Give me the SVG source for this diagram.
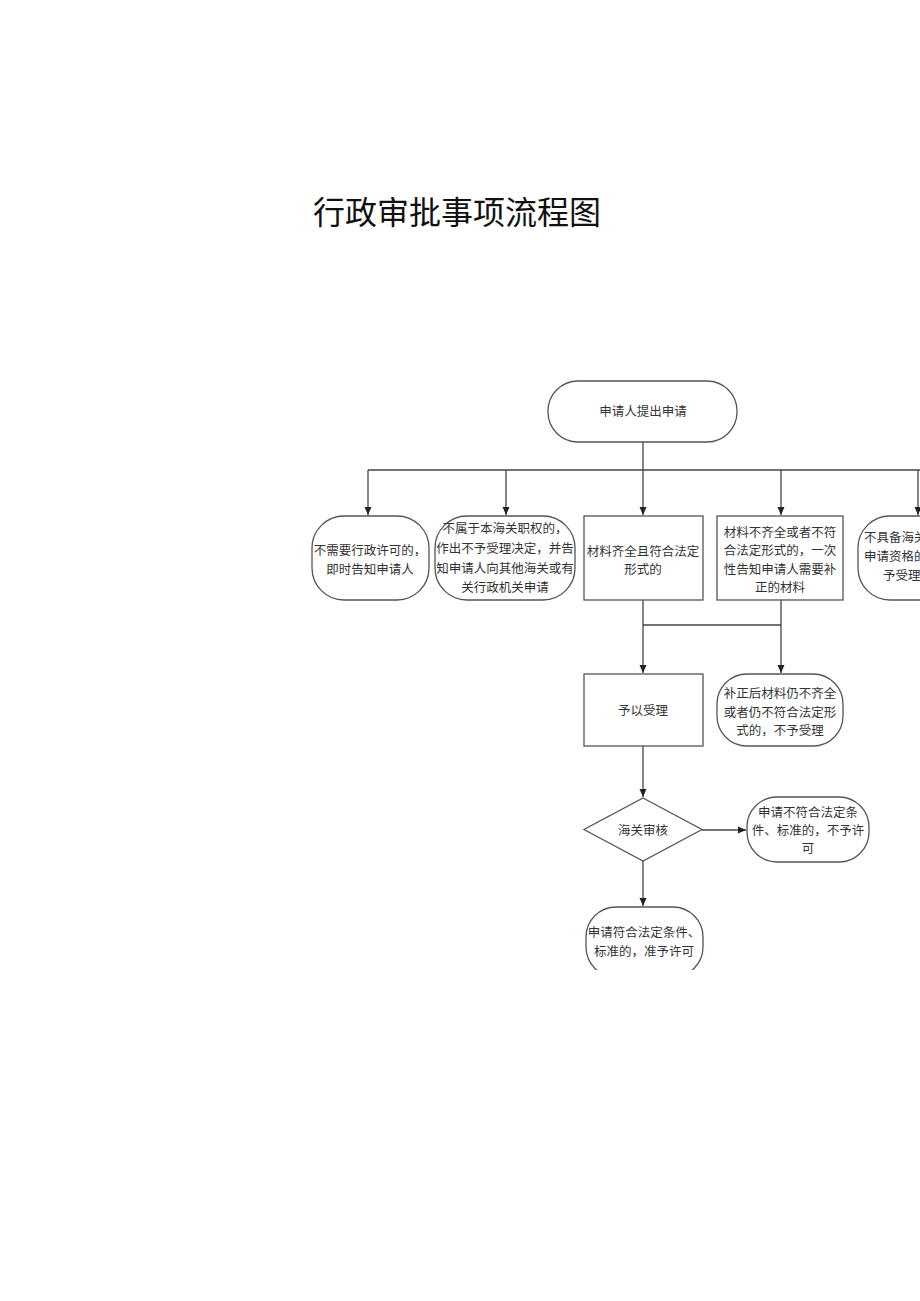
<svg xmlns="http://www.w3.org/2000/svg" width="920" height="1301" viewBox="0 0 920 1301">
<style>
.shape{fill:#fff;stroke:#555;stroke-width:1.3}
.t{font-family:"Noto Sans CJK SC","Noto Sans",sans-serif;font-size:12.5px;fill:#333;text-anchor:middle}
.title{font-family:"Noto Sans CJK SC","Noto Sans",sans-serif;font-size:32px;fill:#111}
.c{fill:none;stroke:#444;stroke-width:1.3}
</style>
<defs>
<marker id="arr" markerWidth="8" markerHeight="8" refX="8" refY="4" orient="auto" markerUnits="userSpaceOnUse">
<path d="M0,0.5 L8,4 L0,7.5 Z" fill="#222"/>
</marker>
<clipPath id="cut"><rect x="0" y="0" width="920" height="970"/></clipPath>
</defs>
<rect width="920" height="1301" fill="#fff"/>
<text class="title" x="313" y="224">行政审批事项流程图</text>

<g id="connectors">
<path class="c" d="M643 442 V470"/>
<path class="c" d="M368 470 H925"/>
<path class="c" d="M368 470 V515" marker-end="url(#arr)"/>
<path class="c" d="M506 470 V515" marker-end="url(#arr)"/>
<path class="c" d="M643 470 V515" marker-end="url(#arr)"/>
<path class="c" d="M781 470 V515" marker-end="url(#arr)"/>
<path class="c" d="M918 470 V515" marker-end="url(#arr)"/>
<path class="c" d="M643 600 V673" marker-end="url(#arr)"/>
<path class="c" d="M781 600 V673" marker-end="url(#arr)"/>
<path class="c" d="M643 625 H781"/>
<path class="c" d="M643 746 V797" marker-end="url(#arr)"/>
<path class="c" d="M702 830 H746" marker-end="url(#arr)"/>
<path class="c" d="M643 861 V906" marker-end="url(#arr)"/>
</g>

<g id="start">
<rect class="shape" x="548" y="381" width="189" height="61" rx="30" ry="30"/>
<text class="t" x="643" y="416">申请人提出申请</text>
</g>

<g id="n1">
<rect class="shape" x="312" y="516" width="117" height="84" rx="32" ry="32"/>
<text class="t" x="370" y="555">不需要行政许可的，</text>
<text class="t" x="370" y="574">即时告知申请人</text>
</g>

<g id="n2">
<rect class="shape" x="435" y="516" width="140" height="84" rx="32" ry="32"/>
<text class="t" x="505" y="533">不属于本海关职权的，</text>
<text class="t" x="505" y="553">作出不予受理决定，并告</text>
<text class="t" x="505" y="573">知申请人向其他海关或有</text>
<text class="t" x="505" y="592">关行政机关申请</text>
</g>

<g id="n3">
<rect class="shape" x="584" y="516" width="119" height="84"/>
<text class="t" x="643" y="556">材料齐全且符合法定</text>
<text class="t" x="643" y="574">形式的</text>
</g>

<g id="n4">
<rect class="shape" x="717" y="516" width="126" height="84"/>
<text class="t" x="780" y="537">材料不齐全或者不符</text>
<text class="t" x="780" y="555">合法定形式的，一次</text>
<text class="t" x="780" y="574">性告知申请人需要补</text>
<text class="t" x="780" y="592">正的材料</text>
</g>

<g id="n5">
<rect class="shape" x="858" y="516" width="125" height="84" rx="32" ry="32"/>
<text class="t" x="864" y="542" style="text-anchor:start">不具备海关行政许可</text>
<text class="t" x="864" y="561" style="text-anchor:start">申请资格的，不</text>
<text class="t" x="883" y="580" style="text-anchor:start">予受理的</text>
</g>

<g id="n6">
<rect class="shape" x="584" y="674" width="119" height="72"/>
<text class="t" x="643" y="715">予以受理</text>
</g>

<g id="n7">
<rect class="shape" x="717" y="674" width="126" height="72" rx="30" ry="30"/>
<text class="t" x="780" y="698">补正后材料仍不齐全</text>
<text class="t" x="780" y="717">或者仍不符合法定形</text>
<text class="t" x="780" y="735">式的，不予受理</text>
</g>

<g id="n8">
<path class="shape" d="M643 798 L702 829.5 L643 861 L584 829.5 Z"/>
<text class="t" x="643" y="835">海关审核</text>
</g>

<g id="n9">
<rect class="shape" x="747" y="797" width="122" height="65" rx="30" ry="30"/>
<text class="t" x="808" y="817">申请不符合法定条</text>
<text class="t" x="808" y="835">件、标准的，不予许</text>
<text class="t" x="808" y="853">可</text>
</g>

<g id="n10" clip-path="url(#cut)">
<rect class="shape" x="586" y="907" width="117" height="70" rx="30" ry="30"/>
<text class="t" x="644" y="937">申请符合法定条件、</text>
<text class="t" x="644" y="956">标准的，准予许可</text>
</g>
</svg>
